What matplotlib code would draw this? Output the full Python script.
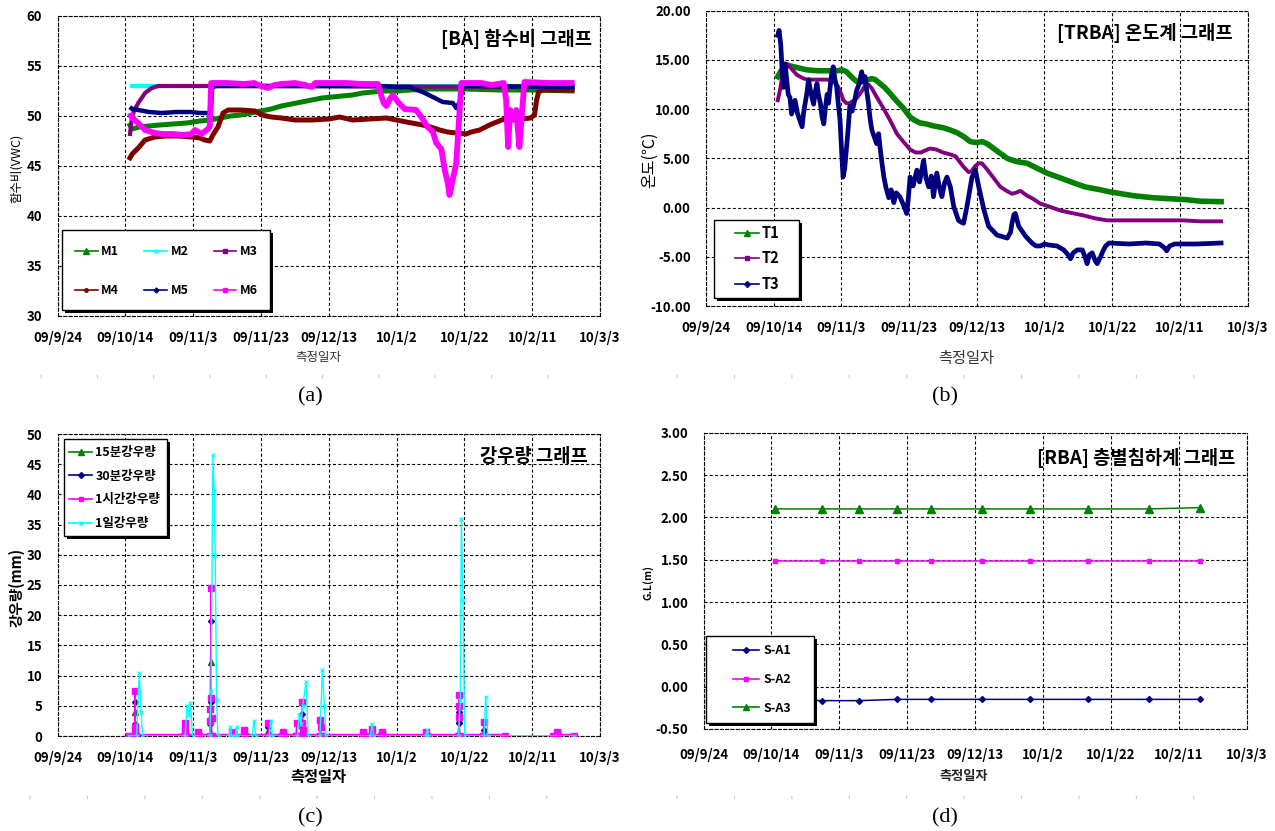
import matplotlib
matplotlib.use("Agg")
import matplotlib.pyplot as plt
import matplotlib.dates as mdates
from matplotlib.lines import Line2D
from matplotlib.patches import Rectangle

plt.rcParams['font.family'] = ['Noto Sans CJK KR', 'DejaVu Sans']
plt.rcParams['lines.scale_dashes'] = False
plt.rcParams['axes.unicode_minus'] = False

# ---------------- data ----------------
START_DATE = "2009-09-24"
SPAN_DAYS = 160
TICK_DATES = ['2009-09-24', '2009-10-14', '2009-11-03', '2009-11-23', '2009-12-13',
              '2010-01-02', '2010-01-22', '2010-02-11', '2010-03-03']
TICK_LABELS = ['09/9/24', '09/10/14', '09/11/3', '09/11/23', '09/12/13',
               '10/1/2', '10/1/22', '10/2/11', '10/3/3']

# (a) moisture content, x = days since START_DATE
M1_DAYS = [21, 22, 24, 27, 30, 34, 38, 42, 45, 48, 51, 54, 57, 60, 63, 66, 69, 72, 75, 78, 81, 84,
           87, 90, 93, 96, 100, 104, 110, 120, 130, 140, 152.5]
M1_VALS = [49.3, 48.7, 48.9, 49.0, 49.1, 49.2, 49.3, 49.5, 49.6, 49.8, 50.0, 50.1, 50.3, 50.5, 50.7,
           51.0, 51.2, 51.4, 51.6, 51.8, 51.9, 52.0, 52.1, 52.3, 52.4, 52.5, 52.5, 52.6, 52.7, 52.7,
           52.6, 52.6, 52.5]
M2_DAYS = [21.3, 27.2, 60, 100, 152.5]
M2_VALS = [52.95, 52.95, 52.95, 52.95, 52.95]
M3_DAYS = [21.3, 21.8, 22.5, 23.8, 25.8, 27.8, 29.7, 60, 100, 152.5]
M3_VALS = [48.0, 49.5, 50.5, 51.3, 52.3, 52.8, 53.0, 53.0, 52.95, 52.9]
M4_DAYS = [21, 22, 23.8, 25.8, 28.7, 32, 36, 39.5, 42, 43.4, 44.9, 45.8, 47.3, 48.8, 50.3, 54, 58.2,
           60.2, 63, 66, 70, 75, 80, 83.2, 87, 92, 97, 100, 102.9, 107.7, 110, 112.7, 115, 117.6,
           120.5, 122, 124.5, 127.4, 131, 134.7, 137, 139.5, 140.7, 141.3, 141.9, 143, 152.5]
M4_VALS = [45.6, 46.2, 46.8, 47.6, 47.9, 48.0, 48.0, 47.9, 47.8, 47.6, 47.5, 48.1, 48.9, 50.3, 50.6,
           50.6, 50.5, 50.1, 49.9, 49.8, 49.6, 49.6, 49.7, 49.9, 49.6, 49.7, 49.8, 49.6, 49.4, 49.1,
           48.9, 48.6, 48.4, 48.3, 48.2, 48.4, 48.6, 49.1, 49.6, 49.9, 49.7, 49.8, 50.1, 51.6, 52.4,
           52.6, 52.6]
M5_DAYS = [21.3, 22, 23.8, 27, 30.7, 35, 39.5, 42, 45.2, 45.6, 47, 95, 100, 103.9, 106, 107.7, 110.7,
           113.6, 116.6, 117.6, 118.6, 119.5, 121, 152.5]
M5_VALS = [50.9, 50.7, 50.6, 50.4, 50.3, 50.4, 50.4, 50.3, 50.3, 52.9, 53.0, 53.0, 52.9, 52.9, 52.6,
           52.4, 51.9, 51.4, 51.3, 50.8, 51.4, 52.9, 53.0, 52.9]
M6_DAYS = [21.3, 22, 23.8, 25.8, 28.7, 31, 34, 37, 39.5, 40.5, 42.4, 44.4, 44.9, 45.3, 50, 55, 58, 60,
           62, 64, 66, 70, 73, 75, 76, 80, 85, 90, 94.5, 95.5, 96.2, 97, 98, 98.9, 100.4, 102.4,
           105.8, 107.3, 109.2, 110.7, 111.7, 113.2, 114.2, 115.1, 115.6, 116.6, 117.6, 118.1,
           118.6, 119.1, 125, 128, 131.6, 132.3, 132.9, 133.5, 134.7, 135.3, 136.2, 136.9, 137.7,
           145, 152.5]
M6_VALS = [50.3, 49.8, 49.3, 48.6, 48.3, 48.2, 48.2, 48.1, 48.2, 48.6, 48.2, 48.7, 49.0, 53.3, 53.3,
           53.2, 53.3, 53.0, 52.8, 53.1, 53.2, 53.3, 53.1, 52.9, 53.3, 53.3, 53.3, 53.2, 53.2, 52.0,
           51.3, 51.0, 51.7, 52.1, 51.4, 50.7, 50.6, 49.9, 48.9, 48.4, 47.3, 46.7, 44.6, 43.3, 42.1,
           43.7, 45.3, 48.0, 50.6, 53.3, 53.3, 53.1, 53.3, 51.6, 46.9, 50.6, 49.6, 50.6, 46.9, 49.9,
           53.4, 53.3, 53.3]

# (b) temperature
T1_DAYS = [21.2, 22.0, 23.6, 26.0, 29.6, 33.0, 36.6, 39.0, 40.1, 41.5, 43.5, 45.0, 46.5, 48.0, 49.0,
           50.0, 51.4, 52.8, 54.4, 56.4, 58.3, 60.3, 61.5, 63.2, 65.0, 67.2, 70.2, 72.0, 74.2, 76.2,
           78.1, 80.0, 81.6, 83.0, 85.0, 87.0, 89.0, 91.4, 93.0, 94.9, 97.8, 100.8, 104.0, 108.7,
           112.0, 116.6, 119.3, 126.4, 132.0, 137.0, 142.0, 146.0, 152.2]
T1_VALS = [13.3, 13.8, 14.5, 14.3, 14.0, 13.9, 13.9, 13.9, 14.0, 13.8, 13.1, 12.7, 12.8, 13.0, 13.1,
           13.0, 12.6, 12.2, 11.6, 10.8, 10.1, 9.2, 8.9, 8.6, 8.5, 8.3, 8.1, 7.9, 7.6, 7.2, 6.7, 6.6,
           6.7, 6.5, 6.0, 5.5, 5.0, 4.7, 4.6, 4.5, 4.0, 3.5, 3.1, 2.5, 2.1, 1.8, 1.6, 1.2, 1.0, 0.9,
           0.8, 0.65, 0.6]
T2_DAYS = [21.2, 21.6, 22.0, 22.6, 23.8, 25.0, 26.8, 28.3, 29.8, 33.0, 35.7, 37.6, 39.0, 40.0, 40.6,
           41.5, 42.5, 44.5, 46.0, 47.0, 48.0, 49.0, 50.5, 52.4, 54.5, 56.4, 58.3, 60.3, 61.9, 63.5,
           64.8, 66.2, 68.0, 70.0, 72.2, 73.8, 74.6, 76.2, 77.6, 78.5, 79.5, 80.6, 81.5, 83.0, 85.0,
           87.0, 88.8, 90.4, 91.5, 92.9, 94.9, 96.6, 98.8, 101.4, 104.7, 108.0, 111.6, 115.0, 118.5,
           130.0, 140.9, 146.0, 152.2]
T2_VALS = [10.9, 11.5, 12.2, 13.5, 14.6, 14.2, 13.5, 13.2, 13.0, 13.0, 13.0, 12.9, 12.3, 11.5, 10.9,
           10.6, 10.6, 11.1, 11.8, 12.4, 12.5, 12.1, 11.2, 10.1, 8.8, 7.5, 6.7, 5.9, 5.6, 5.6, 5.8,
           6.0, 5.9, 5.6, 5.4, 5.2, 4.8, 4.1, 3.6, 3.7, 4.2, 4.5, 4.5, 3.9, 3.0, 2.1, 1.7, 1.4, 1.5,
           1.7, 1.2, 0.9, 0.4, 0.1, -0.3, -0.55, -0.8, -1.1, -1.3, -1.3, -1.3, -1.4, -1.4]
T3_DAYS = [21.2, 21.6, 22.1, 22.5, 22.9, 23.4, 23.8, 24.3, 24.8, 25.3, 25.8, 26.3, 27.0, 27.8, 28.4,
           28.8, 29.3, 29.8, 30.3, 30.8, 31.3, 31.8, 32.3, 32.8, 33.2, 33.8, 34.3, 34.8, 35.3, 35.8,
           36.2, 36.6, 37.1, 37.6, 38.1, 38.6, 39.1, 39.6, 40.1, 40.5, 41.0, 41.5, 42.0, 42.5, 43.2,
           44.0, 44.5, 45.2, 46.0, 46.5, 47.0, 47.5, 48.0, 48.5, 49.0, 49.7, 50.4, 51.0, 51.4, 52.0,
           52.6, 53.2, 54.0, 54.7, 55.5, 56.2, 57.3, 58.3, 59.3, 59.8, 60.3, 61.2, 62.3, 63.1, 64.3,
           65.0, 65.8, 66.6, 67.2, 68.2, 69.0, 69.7, 70.5, 71.2, 72.2, 73.2, 74.6, 75.5, 76.1, 77.1,
           78.6, 79.6, 80.6, 82.1, 83.5, 86.0, 89.0, 90.0, 90.4, 91.0, 91.4, 92.4, 94.4, 96.3, 97.5,
           98.8, 100.0, 101.2, 103.7, 105.7, 107.0, 107.7, 108.5, 109.7, 111.2, 112.0, 112.6, 113.3,
           114.1, 115.0, 115.6, 116.6, 117.3, 118.1, 119.1, 125.0, 130.0, 134.0, 135.5, 136.1, 137.0,
           138.5, 145.0, 152.2]
T3_VALS = [17.5, 18.0, 16.5, 14.0, 12.2, 14.6, 13.1, 11.5, 11.2, 9.5, 10.2, 10.9, 9.6, 8.8, 8.2, 9.5,
           10.6, 11.6, 13.0, 12.0, 11.2, 10.5, 11.8, 12.6, 11.5, 10.6, 9.2, 8.5, 10.2, 11.5, 10.6,
           12.0, 13.5, 14.3, 13.0, 12.3, 10.5, 8.9, 5.5, 3.1, 4.0, 6.0, 8.0, 10.3, 9.8, 11.0, 11.9,
           12.5, 13.8, 12.8, 13.3, 11.8, 10.6, 9.0, 7.9, 7.2, 6.5, 7.5, 6.2, 4.5, 3.0, 2.0, 1.0, 1.8,
           0.5, 1.5, 1.1, 0.3, -0.6, 1.0, 3.1, 2.2, 3.8, 2.6, 4.8, 3.0, 2.1, 3.2, 1.1, 3.5, 2.0, 1.1,
           2.5, 3.1, 2.1, 0.1, -1.3, -1.5, -1.6, 0.1, 3.1, 3.8, 2.1, -0.2, -1.9, -2.8, -3.1, -2.5,
           -1.6, -0.7, -0.6, -1.9, -2.9, -3.6, -3.9, -3.9, -3.7, -3.8, -3.9, -4.3, -4.8, -5.2, -4.6,
           -4.3, -4.3, -5.0, -5.7, -4.8, -4.6, -5.4, -5.7, -5.0, -4.4, -3.9, -3.6, -3.7, -3.6, -3.7,
           -4.1, -4.4, -3.9, -3.7, -3.7, -3.6]

# (c) rainfall
R15_DAYS = [21.0, 22.6, 22.8, 23.0, 37.4, 37.6, 37.8, 44.9, 45.1, 45.2, 45.4, 62.0, 62.2, 62.4, 72.0,
            72.2, 72.4, 118.2, 118.4, 118.6, 125.5, 125.7, 125.9, 132.0]
R15_VALS = [0, 0, 3.9, 0, 0, 0.6, 0, 0, 3.0, 12.3, 0, 0, 0.8, 0, 0, 1.8, 0, 0, 2.6, 0, 0, 0.6, 0, 0]
R30_DAYS = [21.0, 22.6, 22.75, 22.85, 23.0, 44.9, 45.05, 45.15, 45.25, 45.4, 62.0, 62.2, 62.4, 72.0,
            72.2, 72.4, 118.2, 118.35, 118.45, 118.6, 125.5, 125.7, 125.9, 132.0]
R30_VALS = [0, 0, 2.0, 5.6, 0, 0, 2.0, 19.0, 5.6, 0, 0, 1.5, 0, 0, 3.6, 0, 0, 2.2, 4.0, 0, 0, 1.0, 0, 0]
R1H_DAYS = [21.0, 22.6, 22.7, 22.8, 22.9, 23.0, 37.3, 37.5, 37.7, 37.9, 41.3, 41.5, 41.7, 44.9, 45.0,
            45.1, 45.2, 45.3, 45.4, 45.5, 51.3, 51.5, 51.7, 54.9, 55.1, 55.3, 62.0, 62.2, 62.4, 66.3,
            66.5, 66.7, 70.3, 70.5, 70.7, 72.0, 72.1, 72.2, 72.3, 72.4, 77.3, 77.5, 77.6, 77.8, 90.0,
            90.2, 90.4, 92.4, 92.6, 92.8, 95.5, 95.7, 95.9, 108.6, 108.8, 109.0, 118.2, 118.3, 118.4,
            118.5, 118.6, 125.5, 125.7, 125.9, 132.0, 146.2, 147.2, 147.4, 147.6, 152.3]
R1H_VALS = [0, 0, 1.5, 7.5, 0.5, 0, 0, 2.2, 1.2, 0, 0, 0.6, 0, 0, 2.5, 4.5, 24.5, 6.3, 3.0, 0, 0, 0.6,
            0, 0, 1.0, 0, 0, 2.2, 0, 0, 0.6, 0, 0, 2.2, 0, 0, 2.2, 5.7, 1.0, 0, 0, 2.7, 1.5, 0, 0, 0.7,
            0, 0, 1.2, 0, 0, 0.7, 0, 0, 0.7, 0, 0, 3.2, 6.8, 5.0, 0, 0, 2.3, 0, 0, 0, 0, 0.7, 0, 0]
R1D_DAYS = [21.0, 23.3, 24.1, 24.6, 25.1, 37.6, 38.2, 38.7, 39.2, 39.8, 44.9, 45.3, 45.8, 46.2, 46.5,
            46.9, 47.3, 50.6, 51.0, 51.4, 52.4, 52.8, 53.2, 57.4, 57.9, 58.5, 62.4, 62.9, 63.4, 70.7,
            71.3, 71.8, 72.3, 73.3, 73.9, 77.4, 78.1, 78.7, 79.2, 92.3, 92.8, 93.3, 108.6, 109.0,
            109.4, 118.3, 118.8, 119.1, 119.6, 120.1, 125.8, 126.3, 126.9, 152.3]
R1D_VALS = [0, 0, 10.5, 4.0, 0, 0, 4.9, 3.5, 5.5, 0, 0, 7.5, 46.5, 40.5, 30.0, 6.0, 0, 0, 1.5, 0, 0,
            1.5, 0, 0, 2.5, 0, 0, 2.5, 0, 0, 3.5, 2.0, 5.0, 9.0, 0, 0, 11.0, 5.0, 0, 0, 2.0, 0, 0, 1.0,
            0, 0, 6.0, 36.0, 22.5, 0, 0, 6.5, 0, 0]
RAIN_LOGGED_SPANS = [(21.0, 132.0), (146.2, 152.3)]

# (d) settlement
D_DAYS = [21.0, 35.0, 45.9, 57.0, 67.1, 82.1, 96.1, 113.2, 131.3, 146.2]
SA1_VALS = [-0.16, -0.165, -0.165, -0.15, -0.15, -0.15, -0.15, -0.15, -0.15, -0.15]
SA2_VALS = [1.49, 1.49, 1.49, 1.49, 1.49, 1.49, 1.49, 1.49, 1.49, 1.49]
SA3_VALS = [2.10, 2.10, 2.10, 2.10, 2.10, 2.10, 2.10, 2.10, 2.10, 2.115]

# ---------------- styling / layout ----------------
W, H = 1275, 831
fig = plt.figure(figsize=(W / 100, H / 100), dpi=100)
fig.patch.set_facecolor('white')

X0 = mdates.datestr2num(START_DATE)
TICK_NUMS = [mdates.datestr2num(d) for d in TICK_DATES]


def xs(days):
    return [X0 + d for d in days]


def fx(px):
    return px / W


def fy(py):
    return 1 - py / H


def make_axes(l, t, r, b):
    return fig.add_axes([l / W, 1 - b / H, (r - l) / W, (b - t) / H])


DASH = (0, (2.2, 1.6))


def style(ax, ylim, yticks, yfmt, xpad=11, ypad=11, size=9.5):
    ax.set_xlim(X0, X0 + SPAN_DAYS)
    ax.set_xticks(TICK_NUMS)
    ax.set_xticklabels(TICK_LABELS)
    ax.set_ylim(*ylim)
    ax.set_yticks(yticks)
    ax.set_yticklabels([yfmt.format(v) for v in yticks])
    ax.grid(True, color='black', linestyle=DASH, linewidth=0.8)
    ax.set_axisbelow(True)
    for sp in ax.spines.values():
        sp.set_linestyle(DASH)
        sp.set_linewidth(0.8)
        sp.set_color('black')
    ax.tick_params(axis='x', length=0, pad=xpad, labelsize=size)
    ax.tick_params(axis='y', length=0, pad=ypad, labelsize=size)
    for lbl in ax.get_xticklabels() + ax.get_yticklabels():
        lbl.set_fontweight('bold')


def legend_box(x0, y0, x1, y1):
    sh = Rectangle((fx(x0 + 3), fy(y1 + 3)), (x1 - x0) / W, (y1 - y0) / H,
                   transform=fig.transFigure, facecolor='black', edgecolor='none', zorder=3)
    fr = Rectangle((fx(x0), fy(y1)), (x1 - x0) / W, (y1 - y0) / H,
                   transform=fig.transFigure, facecolor='white', edgecolor='black',
                   linewidth=1.0, zorder=3.1)
    fig.add_artist(sh)
    fig.add_artist(fr)


def handle(color, marker, ms):
    return Line2D([], [], color=color, lw=1.2, marker=marker, markersize=ms,
                  markerfacecolor=color, markeredgecolor=color)


GREEN, CYAN, PURPLE, DRED, NAVY, MAG = '#008000', '#00FFFF', '#800080', '#800000', '#000080', '#FF00FF'

# ---------- (a) ----------
axa = make_axes(57.6, 16, 600, 316)
style(axa, (30, 60), [30, 35, 40, 45, 50, 55, 60], '{:.0f}')
for d, v, c, lw in [(M1_DAYS, M1_VALS, GREEN, 3.6), (M2_DAYS, M2_VALS, CYAN, 3.0),
                    (M3_DAYS, M3_VALS, PURPLE, 3.0), (M4_DAYS, M4_VALS, DRED, 3.6),
                    (M5_DAYS, M5_VALS, NAVY, 3.2), (M6_DAYS, M6_VALS, MAG, 4.2)]:
    axa.plot(xs(d), v, color=c, lw=lw, solid_joinstyle='round', solid_capstyle='butt')
legend_box(62, 230, 270, 310)
# column-major filling: M1/M4, M2/M5, M3/M6
fig.legend([handle(GREEN, '^', 4), handle(DRED, 'o', 2.5), handle(CYAN, 'x', 3),
            handle(NAVY, 'D', 2.5), handle(PURPLE, 's', 2.5), handle(MAG, 's', 3.5)],
           ['M1', 'M4', 'M2', 'M5', 'M3', 'M6'], ncol=3, loc='upper left',
           bbox_to_anchor=(fx(75), fy(245)), frameon=False, borderpad=0, borderaxespad=0,
           handlelength=1.8, handletextpad=0.3, columnspacing=2.0, labelspacing=2.08,
           prop={'size': 9, 'weight': 'bold'})

# ---------- (b) ----------
axb = make_axes(706, 10.7, 1247.5, 306)
style(axb, (-10, 20), [-10, -5, 0, 5, 10, 15, 20], '{:.2f}')
axb.plot(xs(T1_DAYS), T1_VALS, color=GREEN, lw=4.0, solid_joinstyle='round')
axb.plot(xs(T2_DAYS), T2_VALS, color=PURPLE, lw=2.8, solid_joinstyle='round')
axb.plot(xs(T3_DAYS), T3_VALS, color=NAVY, lw=3.4, solid_joinstyle='round')
legend_box(714, 220, 799, 298)
fig.legend([handle(GREEN, '^', 4), handle(PURPLE, 's', 2.5), handle(NAVY, 'D', 3)],
           ['T1', 'T2', 'T3'], loc='upper left', bbox_to_anchor=(fx(735), fy(225)),
           frameon=False, borderpad=0, borderaxespad=0, handlelength=1.65, handletextpad=0.2,
           labelspacing=0.65, prop={'size': 10.5, 'weight': 'bold'})

# ---------- (c) ----------
axc = make_axes(57.6, 434, 600, 736)
style(axc, (0, 50), [0, 5, 10, 15, 20, 25, 30, 35, 40, 45, 50], '{:.0f}')
for s, e in RAIN_LOGGED_SPANS:
    axc.plot(xs([s, e]), [0, 0], color=MAG, lw=3.2, solid_capstyle='butt', zorder=2)
    axc.plot(xs([s, e]), [0, 0], color='#55b8ff', lw=2.2, linestyle=(0, (0.8, 1.6)), zorder=2.1)
axc.plot(xs(R15_DAYS), R15_VALS, color=GREEN, lw=0.9, marker='^', ms=4, zorder=3)
axc.plot(xs(R30_DAYS), R30_VALS, color=NAVY, lw=0.9, marker='D', ms=3, zorder=3.1)
axc.plot(xs(R1H_DAYS), R1H_VALS, color=MAG, lw=0.9, marker='s', ms=4, zorder=3.2)
axc.plot(xs(R1D_DAYS), R1D_VALS, color=CYAN, lw=1.0, marker='x', ms=3, mew=0.8, zorder=3.3)
legend_box(64, 439, 166.5, 536)
fig.legend([handle(GREEN, '^', 4), handle(NAVY, 'D', 3), handle(MAG, 's', 3.5), handle(CYAN, 'x', 3)],
           ['15분강우량', '30분강우량', '1시간강우량', '1일강우량'], loc='upper left',
           bbox_to_anchor=(fx(69), fy(446)), frameon=False, borderpad=0, borderaxespad=0,
           handlelength=1.85, handletextpad=0.25, labelspacing=0.85,
           prop={'size': 9, 'weight': 'bold'})

# ---------- (d) ----------
axd = make_axes(703.6, 432.7, 1246.7, 729)
style(axd, (-0.5, 3.0), [-0.5, 0, 0.5, 1.0, 1.5, 2.0, 2.5, 3.0], '{:.2f}', xpad=14)
axd.plot(xs(D_DAYS), SA1_VALS, color=NAVY, lw=1.1, marker='D', ms=3)
axd.plot(xs(D_DAYS), SA2_VALS, color=MAG, lw=1.1, marker='s', ms=3.5)
axd.plot(xs(D_DAYS), SA3_VALS, color=GREEN, lw=1.1, marker='^', ms=6)
legend_box(706, 636, 814, 723)
fig.legend([handle(NAVY, 'D', 3), handle(MAG, 's', 3.5), handle(GREEN, '^', 5)],
           ['S-A1', 'S-A2', 'S-A3'], loc='upper left', bbox_to_anchor=(fx(733), fy(644.5)),
           frameon=False, borderpad=0, borderaxespad=0, handlelength=2.1, handletextpad=0.3,
           labelspacing=1.24, prop={'size': 9, 'weight': 'bold'})

# ---------- texts ----------
TITLE_KW = dict(ha='right', va='center', fontsize=13.5, fontweight='bold', zorder=6)
fig.text(fx(592), fy(39), '[BA] 함수비 그래프', **TITLE_KW)
fig.text(fx(1233), fy(33), '[TRBA] 온도계 그래프', **TITLE_KW)
fig.text(fx(588), fy(457), '강우량 그래프', **TITLE_KW)
fig.text(fx(1235), fy(458), '[RBA] 층별침하계 그래프', **TITLE_KW)

fig.text(fx(318), fy(358), '측정일자', ha='center', va='center', fontsize=9, color='#333333')
fig.text(fx(966), fy(358), '측정일자', ha='center', va='center', fontsize=11, color='#333333')
fig.text(fx(318), fy(777), '측정일자', ha='center', va='center', fontsize=11, fontweight='bold')
fig.text(fx(964), fy(776), '측정일자', ha='center', va='center', fontsize=9.5, fontweight='bold',
         color='#222222')

fig.text(fx(16), fy(168), '함수비(VWC)', rotation=90, ha='center', va='center', fontsize=9)
fig.text(fx(650), fy(160), '온도(℃)', rotation=90, ha='center', va='center', fontsize=11.5)
fig.text(fx(16), fy(587), '강우량(mm)', rotation=90, ha='center', va='center', fontsize=10.5,
         fontweight='bold')
fig.text(fx(648), fy(583), 'G.L(m)', rotation=90, ha='center', va='center', fontsize=7.5,
         fontweight='bold')

SERIF = ['Liberation Serif', 'DejaVu Serif']
for px, py, t in [(310, 397, '(a)'), (945, 397, '(b)'), (310, 818, '(c)'), (945, 818, '(d)')]:
    fig.text(fx(px), fy(py), t, ha='center', va='center', fontsize=16, family=SERIF)

# faint separator tick rows
for x0, x1, yy, sp in [(39.6, 603, 376, 56.2), (675.6, 1250, 376, 57.3),
                       (29, 603, 797, 57.3), (675.6, 1250, 797, 57.3)]:
    fig.add_artist(Line2D([fx(x0), fx(x1)], [fy(yy), fy(yy)], transform=fig.transFigure,
                          color='#c8c8c8', lw=2.5, linestyle=(0, (0.8, (sp - 1) * 0.72))))

fig.savefig('out.png', dpi=100, facecolor='white')
